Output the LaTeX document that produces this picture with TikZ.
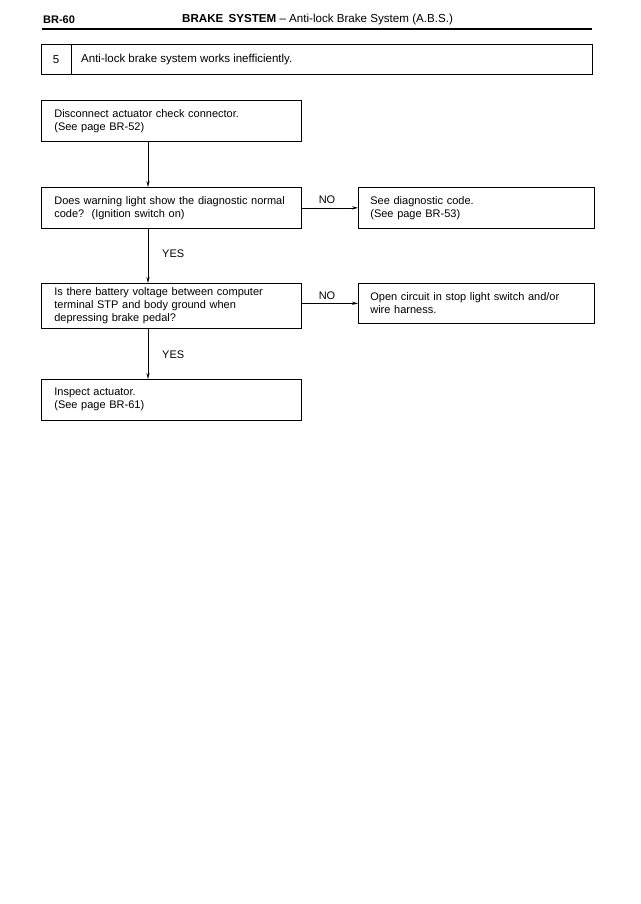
\documentclass[tikz,border=0pt]{standalone}
\usepackage{fontspec}
\setmainfont{Liberation Sans}
\usetikzlibrary{arrows.meta,calc}
\tikzset{
  box/.style={draw, line width=0.7pt, rectangle, anchor=north west, align=left,
    inner xsep=13pt, inner ysep=2pt, font=\fontsize{11}{13}\selectfont},
  lbox/.style={box, text width=234pt, minimum height=41pt},
  rbox/.style={box, text width=212pt, inner xsep=12pt, minimum height=41pt},
  arr/.style={line width=0.7pt, -{Stealth[length=6pt,width=3.2pt]}},
  lab/.style={font=\fontsize{11}{12}\selectfont, inner sep=0pt},
}
\begin{document}
\begin{tikzpicture}[x=1pt,y=-1pt]
\useasboundingbox (0,0) rectangle (640,904);
% header
\node[anchor=west, inner sep=0pt, font=\bfseries\fontsize{11}{12}\selectfont] (pg) at (43,20) {BR-60};
\node[anchor=west, inner sep=0pt, font=\fontsize{11.6}{12}\selectfont] (title) at (182,20) {\textbf{BRAKE\, SYSTEM} -- Anti-lock Brake System (A.B.S.)};
\coordinate (hl) at (42,29);
\coordinate (hr) at (592,29);
\draw[line width=2pt] (hl) -- (hr);
% problem box
\node[draw, line width=0.7pt, anchor=north west, minimum width=551pt, minimum height=30pt, inner sep=0pt] (prob) at (41,44) {};
\coordinate (dv) at (71,0);
\draw[line width=0.7pt] (dv |- prob.north) -- (dv |- prob.south);
\node[lab, font=\fontsize{11.5}{12}\selectfont] (num) at (56,59.5) {5};
\node[lab, anchor=west, font=\fontsize{11.5}{12}\selectfont] (ptxt) at (81,59.5) {Anti-lock brake system works inefficiently.};
% boxes
\node[lbox] (b1) at (41,100) {Disconnect actuator check connector.\\(See page BR-52)};
\node[lbox] (b2) at (41,187) {Does warning light show the diagnostic normal\\code?\ \ (Ignition switch on)};
\node[lbox, minimum height=45pt] (b3) at (41,283) {Is there battery voltage between computer\\terminal STP and body ground when\\depressing brake pedal?};
\node[lbox] (b4) at (41,379) {Inspect actuator.\\(See page BR-61)};
\node[rbox] (r1) at (358,187) {See diagnostic code.\\(See page BR-53)};
\node[rbox, minimum height=40pt] (r2) at (358,283) {Open circuit in stop light switch and/or\\wire harness.};
% connectors
\coordinate (sp) at (148,0);
\draw[arr] (sp |- b1.south) -- (sp |- b2.north);
\draw[arr] (sp |- b2.south) -- (sp |- b3.north);
\draw[arr] (sp |- b3.south) -- (sp |- b4.north);
\draw[arr] (b2.east |- r1.west) -- (r1.west);
\draw[arr] (b3.east |- r2.west) -- (r2.west);
% labels
\node[lab, anchor=west] (y1) at (162,254) {YES};
\node[lab, anchor=west] (y2) at (162,355) {YES};
\node[lab] (n1) at (327,200) {NO};
\node[lab] (n2) at (327,296) {NO};
\end{tikzpicture}
\end{document}
